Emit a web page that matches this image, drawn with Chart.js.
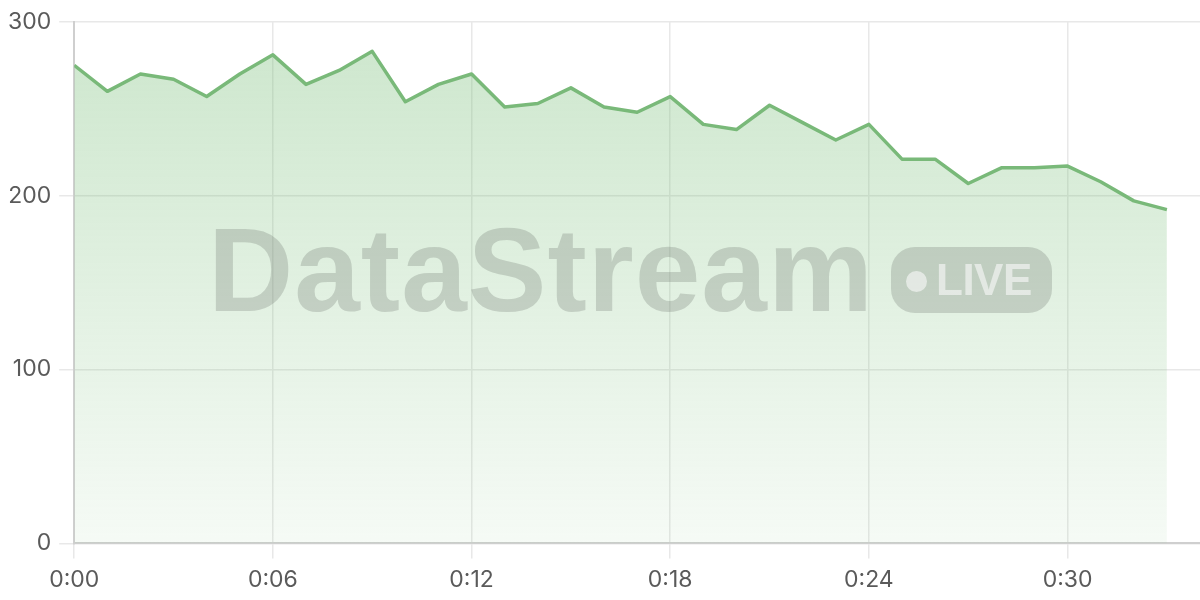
<!DOCTYPE html>
<html>
<head>
<meta charset="utf-8">
<script src="https://cdn.jsdelivr.net/npm/chart.js@4"></script>
<style>
  html, body { margin: 0; padding: 0; background: #fff; }
  #wrap { position: relative; width: 1200px; height: 600px; }
  #chart { position: absolute; left: 0; top: 0; }
  .wm {
    position: absolute;
    left: 208px;
    top: 211px;
    font: bold 118px "Liberation Sans", Arial, sans-serif;
    line-height: 1;
    letter-spacing: 1px;
    color: rgba(110, 120, 110, 0.28);
    white-space: nowrap;
    pointer-events: none;
  }
  .pill {
    position: absolute;
    left: 891px;
    top: 247px;
    width: 161px;
    height: 66px;
    border-radius: 24px;
    background: rgba(110, 120, 110, 0.28);
    pointer-events: none;
  }
  .pill .dot {
    position: absolute;
    left: 15px;
    top: 24px;
    width: 21px;
    height: 21px;
    border-radius: 50%;
    background: rgba(255, 255, 255, 0.55);
  }
  .pill .live {
    position: absolute;
    left: 45px;
    top: 11px;
    font: bold 44px "Liberation Sans", Arial, sans-serif;
    line-height: 1;
    letter-spacing: -0.5px;
    color: rgba(255, 255, 255, 0.55);
  }
</style>
</head>
<body>
<div id="wrap">
  <canvas id="chart" width="1200" height="600"></canvas>
  <div class="wm">DataStream</div>
  <div class="pill"><span class="dot"></span><span class="live">LIVE</span></div>
</div>
<script>
// minutes since start
const minutes = [0, 1, 2, 3, 4, 5, 6, 7, 8, 9, 10, 11, 12, 13, 14, 15, 16,
  17, 18, 19, 20, 21, 22, 23, 24, 25, 26, 27, 28, 29, 30, 31, 32, 33];
const values = [275, 260, 270, 267, 257, 270, 281, 264, 272, 283, 254, 264, 270,
  251, 253, 262, 251, 248, 257, 241, 238, 252, 242, 232, 241, 221, 221, 207,
  216, 216, 217, 208, 197, 192];
const xTicks = [0, 6, 12, 18, 24, 30];
const yTicks = [0, 100, 200, 300];

const lineColor = '#79b979';
const gridColor = '#e8e8e8';
const axisColor = '#cfcfcf';
const textColor = '#5a5a5a';

function fillGradient(context) {
  const chart = context.chart;
  const area = chart.chartArea;
  if (!area) return 'rgba(121,185,121,0.3)';
  const g = chart.ctx.createLinearGradient(0, area.top, 0, area.bottom);
  g.addColorStop(0, 'rgba(121,190,121,0.38)');
  g.addColorStop(1, 'rgba(121,190,121,0.07)');
  return g;
}

function fmtTime(v) {
  return '0:' + String(v).padStart(2, '0');
}

new Chart(document.getElementById('chart'), {
  type: 'line',
  data: {
    datasets: [{
      data: minutes.map((m, i) => ({ x: m, y: values[i] })),
      borderColor: lineColor,
      borderWidth: 3.5,
      borderJoinStyle: 'round',
      backgroundColor: fillGradient,
      fill: 'origin',
      pointRadius: 0,
      tension: 0
    }]
  },
  options: {
    responsive: false,
    animation: false,
    layout: { padding: { top: 5, left: 0, right: 0, bottom: -2 } },
    plugins: { legend: { display: false }, tooltip: { enabled: false } },
    scales: {
      x: {
        type: 'linear',
        min: 0,
        max: 34,
        afterBuildTicks: axis => { axis.ticks = xTicks.map(v => ({ value: v })); },
        grid: { color: gridColor, tickLength: 15, lineWidth: 1.5 },
        border: { color: axisColor, width: 2 },
        ticks: {
          padding: 8,
          color: textColor,
          font: { family: 'Inter', size: 23 },
          maxRotation: 0,
          callback: v => fmtTime(v)
        }
      },
      y: {
        min: 0,
        max: 300,
        afterBuildTicks: axis => { axis.ticks = yTicks.map(v => ({ value: v })); },
        grid: { color: gridColor, tickLength: 15, lineWidth: 1.5 },
        border: { color: axisColor, width: 2 },
        ticks: {
          padding: 8,
          color: textColor,
          font: { family: 'Inter', size: 23 }
        }
      }
    }
  }
});
</script>
</body>
</html>
